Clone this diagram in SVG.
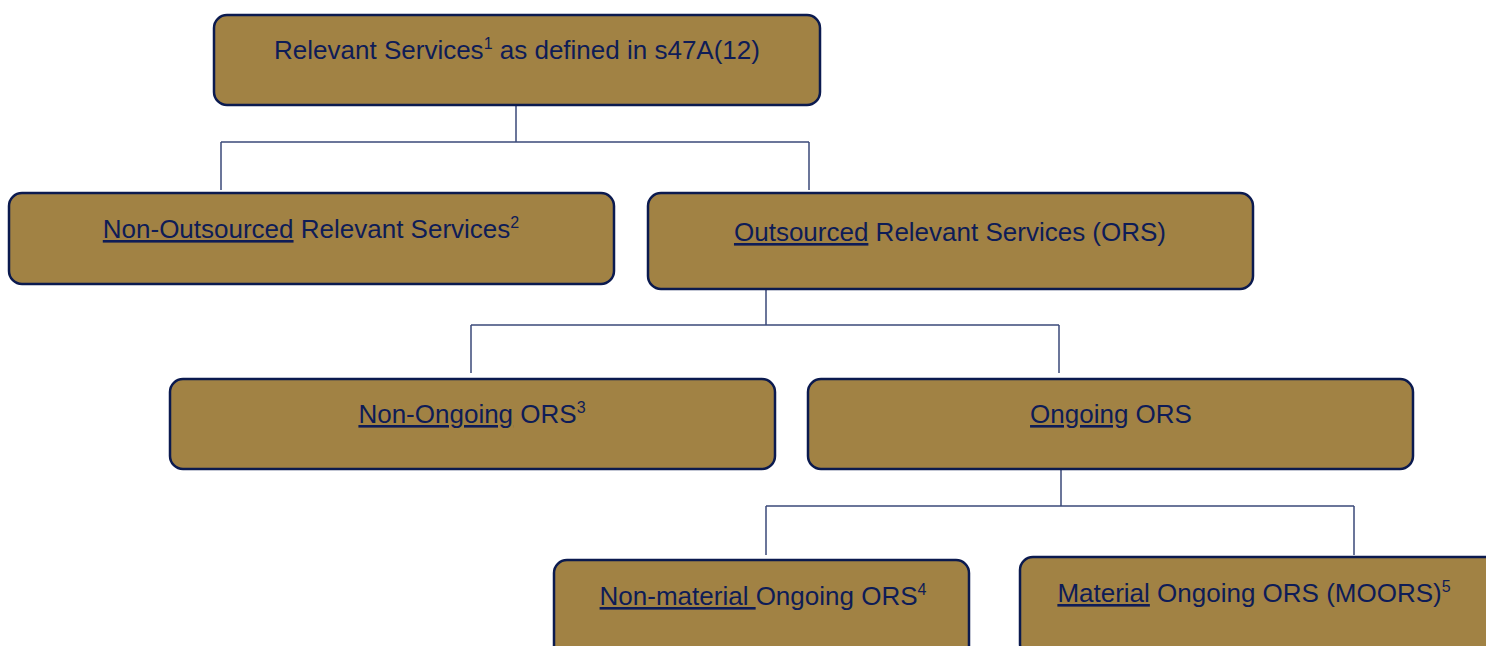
<svg xmlns="http://www.w3.org/2000/svg" width="1486" height="646" viewBox="0 0 1486 646">
<style>
.box{fill:#A18244;stroke:#0B1A4F;stroke-width:2.5}
.lbl{font-family:"Liberation Sans",Arial,sans-serif;font-size:26px;fill:#0E1C57;text-anchor:middle}
.u{text-decoration:underline}
.sup{font-size:16px}
.conn{stroke:#3B4A7A;stroke-width:1.5;fill:none}
</style>
<rect width="1486" height="646" fill="#FFFFFF"/>
<g id="connectors">
<path class="conn" d="M516,105 V142 M221,142 H809 M221,142 V190 M809,142 V190"/>
<path class="conn" d="M766,289 V325 M471,325 H1059 M471,325 V373 M1059,325 V373"/>
<path class="conn" d="M1061,469 V506 M766,506 H1354 M766,506 V555 M1354,506 V555"/>
</g>
<g id="n-relevant">
<rect class="box" x="214" y="15" width="606" height="90" rx="13"/>
<text class="lbl" x="517" y="59">Relevant Services<tspan class="sup" dy="-10">1</tspan><tspan dy="10"> as defined in s47A(12)</tspan></text>
</g>
<g id="n-nonoutsourced">
<rect class="box" x="9" y="193" width="605" height="91" rx="13"/>
<text class="lbl" x="311" y="238"><tspan class="u">Non-Outsourced</tspan> Relevant Services<tspan class="sup" dy="-10">2</tspan></text>
</g>
<g id="n-outsourced">
<rect class="box" x="648" y="193" width="605" height="96" rx="13"/>
<text class="lbl" x="950" y="241"><tspan class="u">Outsourced</tspan> Relevant Services (ORS)</text>
</g>
<g id="n-nonongoing">
<rect class="box" x="170" y="379" width="605" height="90" rx="13"/>
<text class="lbl" x="472" y="423"><tspan class="u">Non-Ongoing</tspan> ORS<tspan class="sup" dy="-10">3</tspan></text>
</g>
<g id="n-ongoing">
<rect class="box" x="808" y="379" width="605" height="90" rx="13"/>
<text class="lbl" x="1111" y="423"><tspan class="u">Ongoing</tspan> ORS</text>
</g>
<g id="n-nonmaterial">
<rect class="box" x="554" y="560" width="415" height="100" rx="13"/>
<text class="lbl" x="763" y="605"><tspan class="u">Non-material </tspan>Ongoing ORS<tspan class="sup" dy="-10">4</tspan></text>
</g>
<g id="n-material">
<rect class="box" x="1020" y="557" width="480" height="100" rx="13"/>
<text class="lbl" x="1254" y="602"><tspan class="u">Material</tspan> Ongoing ORS (MOORS)<tspan class="sup" dy="-10">5</tspan></text>
</g>
</svg>
